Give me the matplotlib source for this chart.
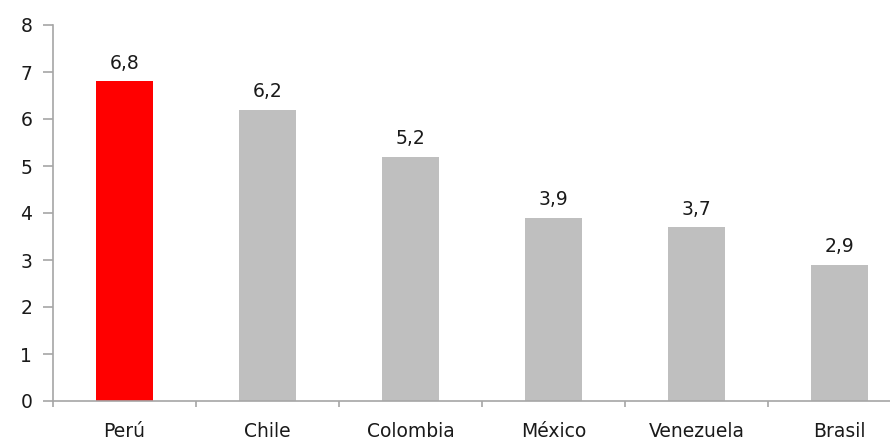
import numpy as np
import matplotlib
matplotlib.use('Agg')
from matplotlib import pyplot as plt

paises = ['Perú', 'Chile', 'Colombia', 'México', 'Venezuela', 'Brasil']
valores = [6.8, 6.2, 5.2, 3.9, 3.7, 2.9]
etiquetas = ['6,8', '6,2', '5,2', '3,9', '3,7', '2,9']
colores = ['#FF0000', '#BFBFBF', '#BFBFBF', '#BFBFBF', '#BFBFBF', '#BFBFBF']

plt.rcParams['font.family'] = ['DejaVu Sans']

fig = plt.figure(figsize=(8.9, 4.43), dpi=100)
# the axis runs a bit past the right edge of the picture, as in the original
ax = fig.add_axes([53 / 890, 42 / 443, 858 / 890, 376 / 443])

x = np.arange(len(paises))
ax.bar(x, valores, width=0.4, color=colores, zorder=2)

for xi, v, t in zip(x, valores, etiquetas):
    ax.annotate(t, (xi, v), xytext=(0, 6), textcoords='offset points',
                ha='center', va='bottom', fontsize=13.5, color='#1a1a1a')

ax.set_xlim(-0.5, len(paises) - 0.5)
ax.set_ylim(0, 8)
ax.set_yticks(range(0, 9))
ax.set_xticks(x)
ax.set_xticklabels(paises)
ax.set_xticks(np.arange(-0.5, len(paises)), minor=True)

for s in ['top', 'right']:
    ax.spines[s].set_visible(False)
for s in ['left', 'bottom']:
    ax.spines[s].set_color('#A6A6A6')
    ax.spines[s].set_linewidth(1.2)

ax.tick_params(axis='y', direction='out', length=7, width=1.2, color='#A6A6A6',
               labelsize=13.5, labelcolor='#1a1a1a', pad=8)
ax.tick_params(axis='x', which='major', length=0, labelsize=13.5,
               labelcolor='#1a1a1a', pad=15)
ax.tick_params(axis='x', which='minor', direction='out', length=4, width=1.2,
               color='#A6A6A6')

fig.savefig('out.png', dpi=100)
